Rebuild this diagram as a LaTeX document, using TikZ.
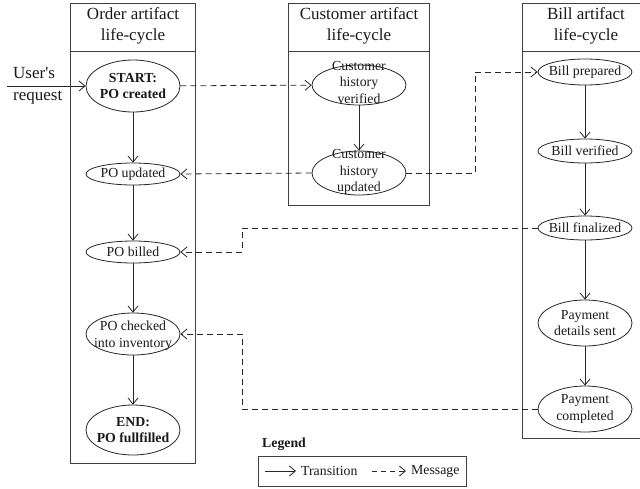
\documentclass[tikz,border=0pt]{standalone}
\usepackage{fontspec}
\setmainfont{Liberation Serif}
\usetikzlibrary{arrows.meta,shapes.geometric,calc}
\begin{document}
\begin{tikzpicture}[x=1pt,y=-1pt,
  lane/.style={draw=black!75, line width=0.8pt},
  ev/.style={ellipse, draw=black!85, line width=0.8pt, minimum width=94pt, inner sep=0pt},
  evtxt/.style={align=center, font=\fontsize{13.8}{16.5}\selectfont, text=black!90, inner sep=0pt},
  hdr/.style={align=center, font=\fontsize{17}{21}\selectfont, text=black!90, inner sep=0pt},
  trans/.style={draw=black!85, line width=0.8pt, -{Straight Barb[length=6pt,width=10pt]}},
  msg/.style={trans, dash pattern=on 6pt off 4pt},
]
\useasboundingbox (0,0) rectangle (640,488);

% lanes
\draw[lane] (70,3) rectangle (195,463);
\draw[lane] (70,51) -- (195,51);
\draw[lane] (288,3) rectangle (429,205);
\draw[lane] (288,51) -- (429,51);
\draw[lane] (640,3) -- (522,3) -- (522,438) -- (640,438);
\draw[lane] (522,51) -- (640,51);

\node[hdr] (h1) at (133,26) {Order artifact\\life-cycle};
\node[hdr] (h2) at (359,26) {Customer artifact\\life-cycle};
\node[hdr] (h3) at (586,26) {Bill artifact\\life-cycle};

% order lane
\node[ev, minimum height=52pt] (st) at (133,86) {};
\node[evtxt, font=\fontsize{13.8}{16.5}\selectfont\bfseries] at (st) {START:\\PO created};
\node[ev, minimum height=22pt] (pu) at (133,174) {};
\node[evtxt] at (pu) {PO updated};
\node[ev, minimum height=22pt] (pb) at (133,252) {};
\node[evtxt] at (pb) {PO billed};
\node[ev, minimum height=42pt] (pc) at (133,334) {};
\node[evtxt] at ($(pc)+(0,1.5)$) {PO checked\\into inventory};
\node[ev, minimum height=50pt] (en) at (133,430) {};
\node[evtxt, font=\fontsize{13.8}{16.5}\selectfont\bfseries] at (en) {END:\\PO fullfilled};

% customer lane
\node[ev, minimum height=40pt] (cv) at (359,85) {};
\node[evtxt] at ($(cv)+(0,-3)$) {Customer\\history\\verified};
\node[ev, minimum height=44pt] (cu) at (359,173) {};
\node[evtxt] at ($(cu)+(0,-1)$) {Customer\\history\\updated};

% bill lane
\node[ev, minimum height=26pt] (bp) at (585,72) {};
\node[evtxt] at (bp) {Bill prepared};
\node[ev, minimum height=24pt] (bv) at (585,151) {};
\node[evtxt] at (bv) {Bill verified};
\node[ev, minimum height=24pt] (bf) at (585,228) {};
\node[evtxt] at (bf) {Bill finalized};
\node[ev, minimum height=46pt] (pd) at (585,323) {};
\node[evtxt] at (pd) {Payment\\details sent};
\node[ev, minimum height=46pt] (pm) at (585,409) {};
\node[evtxt] at (pm) {Payment\\completed};

% user's request
\node[hdr, align=left, font=\fontsize{17}{22}\selectfont, anchor=west] (ur) at (13,86) {User\textquotesingle s\\request};
\coordinate (urs) at (7,86);
\draw[trans] (urs) -- (st.west);

% transitions
\draw[trans] (st) -- (pu);
\draw[trans] (pu) -- (pb);
\draw[trans] (pb) -- (pc);
\draw[trans] (pc) -- (en);
\draw[trans] (cv) -- (cu);
\draw[trans] (bp) -- (bv);
\draw[trans] (bv) -- (bf);
\draw[trans] (bf) -- (pd);
\draw[trans] (pd) -- (pm);

% messages
\coordinate (k1) at (475,0);
\coordinate (k2) at (242,0);
\draw[msg] (st) -- (cv);
\draw[msg] (cu.west) -- (pu.east);
\draw[msg] (cu.east) -- (k1 |- cu.east) |- (bp.west);
\draw[msg] (bf.west) -- (k2 |- bf.west) |- (pb.east);
\draw[msg] (pm.west) -- (k2 |- pm.west) |- (pc.east);

% legend
\node[anchor=west, inner sep=0pt, font=\fontsize{13.8}{16.5}\selectfont\bfseries, text=black!90] (lg) at (262,444) {Legend};
\draw[lane] (258,456) rectangle (466,486);
\coordinate (t1) at (265,471);
\coordinate (t2) at (296,471);
\coordinate (m1) at (372,471);
\coordinate (m2) at (406,471);
\draw[trans] (t1) -- (t2);
\draw[msg, dash pattern=on 5pt off 4pt] (m1) -- (m2);
\node[evtxt, anchor=west] (lt) at (301,471) {Transition};
\node[evtxt, anchor=west] (lm) at (411,471) {Message};
\end{tikzpicture}
\end{document}
